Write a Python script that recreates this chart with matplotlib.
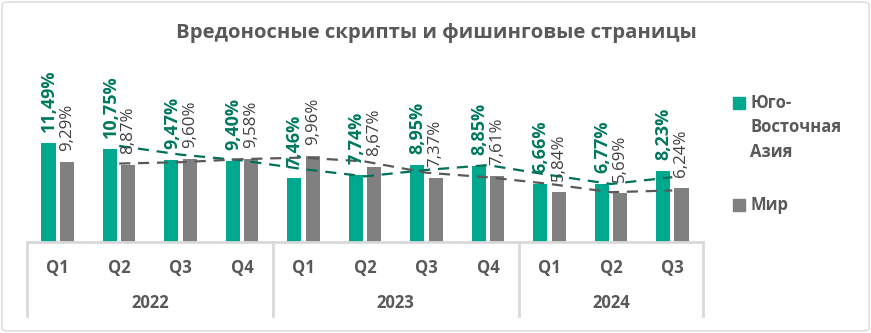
import matplotlib
matplotlib.use("Agg")
import matplotlib.pyplot as plt
import matplotlib.transforms as mtrans
from matplotlib.patches import FancyBboxPatch, Rectangle
from matplotlib.lines import Line2D
import numpy as np

title = "Вредоносные скрипты и фишинговые страницы"
quarters = ["Q1", "Q2", "Q3", "Q4", "Q1", "Q2", "Q3", "Q4", "Q1", "Q2", "Q3"]
years = ["2022", "2023", "2024"]
year_sizes = [4, 4, 3]
sea_name = "Юго-\nВосточная\nАзия"
world_name = "Мир"
sea = [11.49, 10.75, 9.47, 9.40, 7.46, 7.74, 8.95, 8.85, 6.66, 6.77, 8.23]
world = [9.29, 8.87, 9.60, 9.58, 9.96, 8.67, 7.37, 7.61, 5.84, 5.69, 6.24]

GREEN = "#00A88E"
GREEN_LBL = "#00785F"
GREEN_TR = "#00705A"
GREY = "#808080"
GREY_LBL = "#404040"
GREY_TR = "#595959"
TXT = "#595959"
LINE = "#D9D9D9"
FONT = "Open Sans"

W, H = 871, 333
fig = plt.figure(figsize=(W / 100, H / 100), dpi=100)

def fx(px):
    return px / W

def fy(py):
    return 1 - py / H

# border
fig.patches.append(FancyBboxPatch((fx(2), fy(331)), fx(867), (329) / H,
                                  boxstyle="round,pad=0,rounding_size=0.008",
                                  transform=fig.transFigure, fill=False,
                                  edgecolor="#D9D9D9", linewidth=1))

left, right, base, top = 27, 703, 242, 55
ax = fig.add_axes([fx(left), fy(base), fx(right - left), (base - top) / H])
ppu = 8.64
ax.set_xlim(-0.5, len(quarters) - 0.5)
ax.set_ylim(0, (base - top) / ppu)
ax.axis("off")

x = np.arange(len(quarters))
bw = 0.23
off = 0.15
ax.bar(x - off, sea, bw, color=GREEN, zorder=2)
ax.bar(x + off, world, bw, color=GREY, zorder=2)

# moving-average (2 periods) trendlines
sea_ma = [(a + b) / 2 for a, b in zip(sea[:-1], sea[1:])]
world_ma = [(a + b) / 2 for a, b in zip(world[:-1], world[1:])]
ax.plot(x[1:], sea_ma, color=GREEN_TR, lw=1.6, ls=(0, (5, 3.5)), zorder=3)
ax.plot(x[1:], world_ma, color=GREY_TR, lw=1.6, ls=(0, (5, 3.5)), zorder=3)

lab_off = mtrans.offset_copy(ax.transData, fig=fig, x=0, y=11, units="dots")
for xi, v in zip(x, sea):
    ax.text(xi - off + 0.01, v, f"{v:.2f}%".replace(".", ","), transform=lab_off,
            rotation=90, ha="center", va="bottom", color=GREEN_LBL,
            fontsize=13, fontweight="bold", family=FONT, clip_on=False, zorder=4)
for xi, v in zip(x, world):
    ax.text(xi + off, v, f"{v:.2f}%".replace(".", ","), transform=lab_off,
            rotation=90, ha="center", va="bottom", color=GREY_LBL,
            fontsize=12.2, family=FONT, clip_on=False, zorder=4)

# category axis
blend = mtrans.blended_transform_factory(ax.transData, fig.transFigure)
fig.add_artist(Line2D([fx(left), fx(right)], [fy(base), fy(base)], color=LINE, lw=2))
bounds = np.concatenate([[0], np.cumsum(year_sizes)]) - 0.5
for b in bounds:
    ax.add_artist(Line2D([b, b], [fy(base), fy(316)], transform=blend, color=LINE,
                         lw=2, clip_on=False))
for xi, q in zip(x, quarters):
    ax.text(xi, fy(268), q, transform=blend, ha="center", va="center",
            color=TXT, fontsize=12, fontweight="bold", family=FONT)
for i, yname in enumerate(years):
    c = (bounds[i] + bounds[i + 1]) / 2
    ax.text(c, fy(303), yname, transform=blend, ha="center", va="center",
            color=TXT, fontsize=12, fontweight="bold", family=FONT)

# title
fig.text(fx(436), fy(33), title, ha="center", va="center", color=TXT,
         fontsize=14.6, fontweight="bold", family=FONT)

# legend
fig.patches.append(Rectangle((fx(733), fy(109)), fx(12), 12 / H, color=GREEN,
                             transform=fig.transFigure))
fig.text(fx(750), fy(94), sea_name, ha="left", va="top", color=TXT, fontsize=12,
         fontweight="bold", family=FONT, linespacing=1.45)
fig.patches.append(Rectangle((fx(733), fy(211)), fx(12), 12 / H, color=GREY,
                             transform=fig.transFigure))
fig.text(fx(750), fy(205), world_name, ha="left", va="center", color=TXT, fontsize=12,
         fontweight="bold", family=FONT)

fig.savefig("out.png", dpi=100)
